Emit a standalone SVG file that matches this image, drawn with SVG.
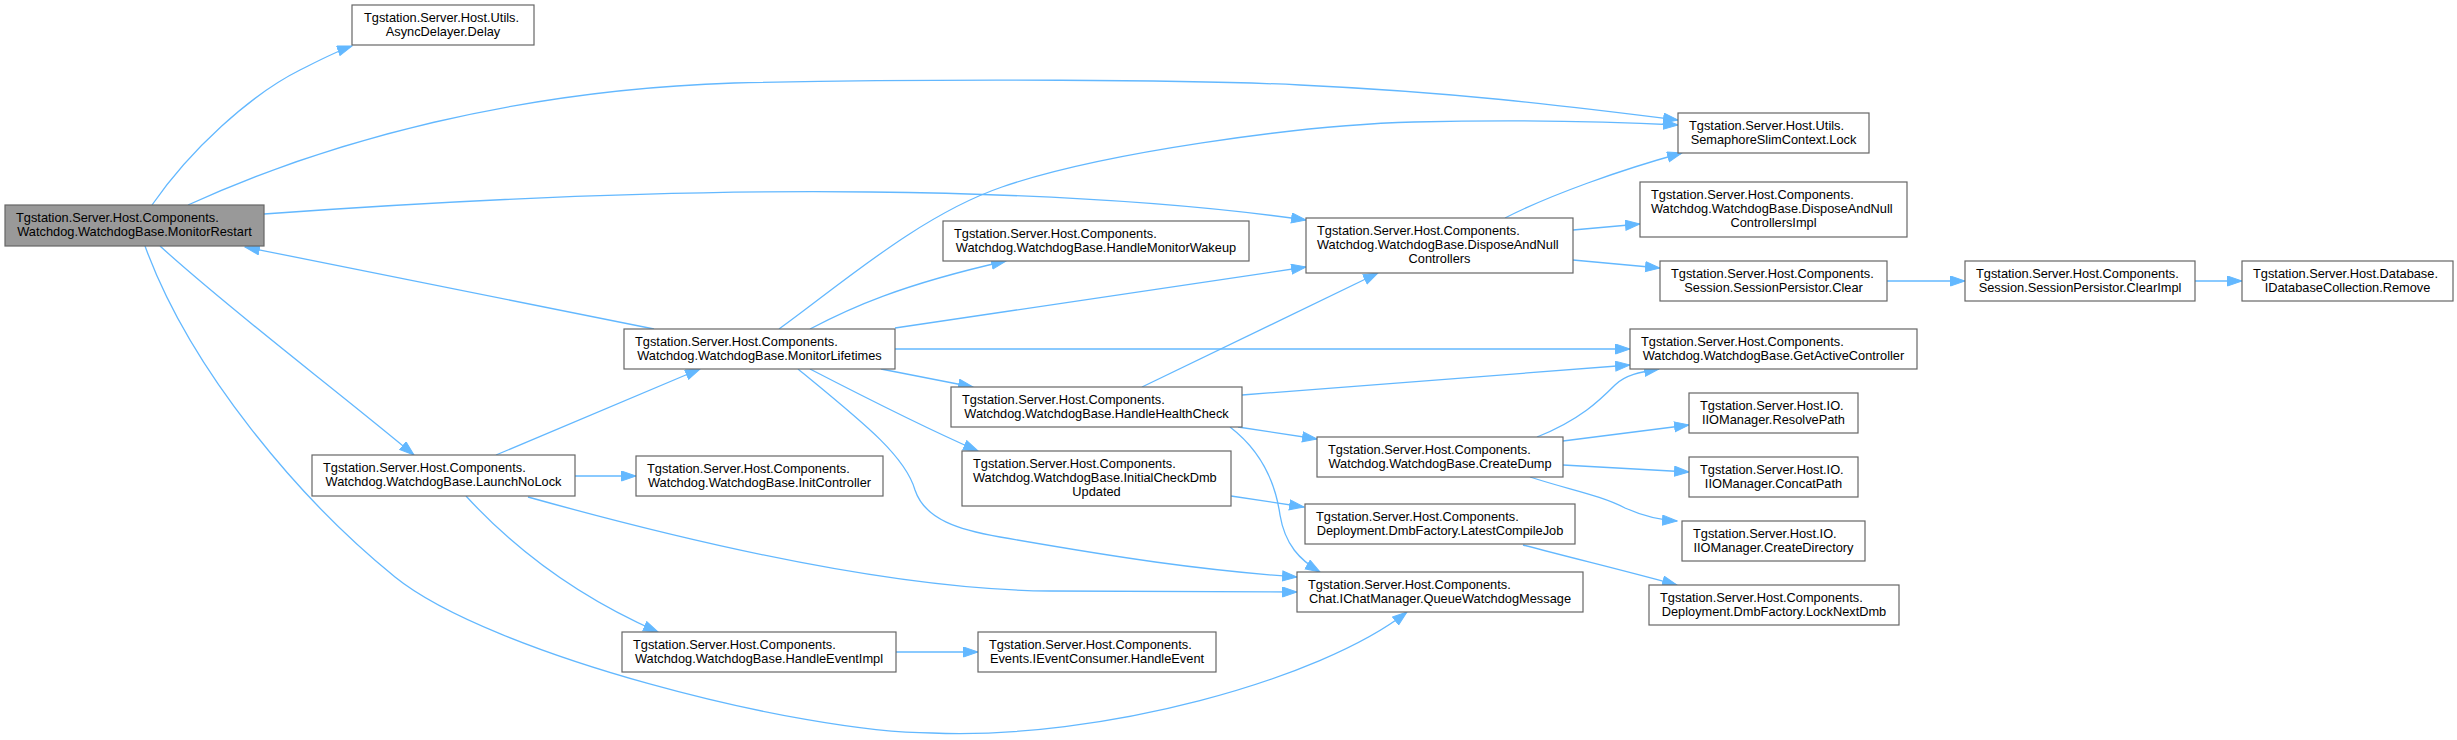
<svg xmlns="http://www.w3.org/2000/svg" width="2457" height="740" viewBox="0 0 2457 740">
<style>
.n rect{fill:#ffffff;stroke:#666666;stroke-width:1.2}
.n.main rect{fill:#999999}
.n text{font-family:"Liberation Sans",Arial,sans-serif;font-size:12.8px;fill:#000}
.m{text-anchor:middle}
.e path{fill:none;stroke:#63B8FF;stroke-width:1.3;marker-end:url(#ah)}
</style>
<defs>
<marker id="ah" markerUnits="userSpaceOnUse" markerWidth="16" markerHeight="12" refX="15" refY="5.5" orient="auto">
<path d="M0.5,0.5 L15,5.5 L0.5,10.5 z" fill="#63B8FF" stroke="#63B8FF" stroke-width="1"/>
</marker>
</defs>
<rect width="2457" height="740" fill="#ffffff"/>
<g id="edges" class="e">
<path d="M152,205 C190,150 250,95 300,70 C320,60 335,52 352,46"/>
<path d="M188,205 C330,140 520,90 734,83 C950,78 1200,80 1300,85 C1450,92 1560,105 1678,120"/>
<path d="M264,214 C500,197 700,190 870,192 C1050,194 1200,205 1306,220"/>
<path d="M160,246 C230,310 330,385 414,455"/>
<path d="M145,246 C190,370 300,500 395,577 C490,654 800,733 932,733 C1100,740 1320,680 1407,612"/>
<path d="M654,329 L245,247"/>
<path d="M496,455 L700,369"/>
<path d="M575,476 L636,476"/>
<path d="M466,496 C520,555 585,600 658,632"/>
<path d="M528,497 C700,545 900,590 1050,591 C1150,592 1230,592 1297,592"/>
<path d="M896,652 L978,652"/>
<path d="M779,329 C840,285 920,215 1002,187 C1100,153 1300,125 1414,122 C1500,120 1600,121 1678,125"/>
<path d="M810,329 C850,308 900,285 1006,261"/>
<path d="M895,328 L1306,267"/>
<path d="M895,349 L1630,349"/>
<path d="M881,369 L973,387"/>
<path d="M810,369 C870,400 930,430 978,451"/>
<path d="M798,369 C860,420 905,455 915,490 C925,520 960,530 1000,537 C1120,558 1200,570 1297,577"/>
<path d="M1142,387 L1378,273"/>
<path d="M1242,395 L1630,365"/>
<path d="M1238,427 L1317,439"/>
<path d="M1230,427 C1260,450 1275,480 1280,515 C1285,545 1300,560 1320,572"/>
<path d="M1231,496 L1304,507"/>
<path d="M1523,545 C1580,560 1630,572 1677,585"/>
<path d="M1537,437 C1580,420 1600,400 1615,385 C1625,375 1640,372 1659,369"/>
<path d="M1563,441 L1689,425"/>
<path d="M1563,465 L1689,472"/>
<path d="M1530,477 C1570,490 1600,495 1625,508 C1645,517 1660,520 1677,521"/>
<path d="M1505,218 C1550,195 1620,170 1682,153"/>
<path d="M1573,230 L1640,224"/>
<path d="M1573,260 L1660,268"/>
<path d="M1887,281 L1965,281"/>
<path d="M2195,281 L2242,281"/>
</g>
<g id="MonitorRestart" class="n main"><rect x="5" y="205" width="259" height="41"/><text x="16" y="221.5">Tgstation.Server.Host.Components.</text><text class="m" x="134.5" y="235.5">Watchdog.WatchdogBase.MonitorRestart</text></g>
<g id="Delay" class="n"><rect x="352" y="5" width="182" height="40"/><text x="364" y="21.5">Tgstation.Server.Host.Utils.</text><text class="m" x="443" y="35.5">AsyncDelayer.Delay</text></g>
<g id="Lock" class="n"><rect x="1678" y="113" width="191" height="40"/><text x="1689" y="129.5">Tgstation.Server.Host.Utils.</text><text class="m" x="1773.5" y="143.5">SemaphoreSlimContext.Lock</text></g>
<g id="LaunchNoLock" class="n"><rect x="312" y="455" width="263" height="41"/><text x="323" y="471.5">Tgstation.Server.Host.Components.</text><text class="m" x="443.5" y="485.5">Watchdog.WatchdogBase.LaunchNoLock</text></g>
<g id="MonitorLifetimes" class="n"><rect x="624" y="329" width="271" height="40"/><text x="635" y="345.5">Tgstation.Server.Host.Components.</text><text class="m" x="759.5" y="359.5">Watchdog.WatchdogBase.MonitorLifetimes</text></g>
<g id="HandleMonitorWakeup" class="n"><rect x="943" y="221" width="306" height="40"/><text x="954" y="237.5">Tgstation.Server.Host.Components.</text><text class="m" x="1096" y="251.5">Watchdog.WatchdogBase.HandleMonitorWakeup</text></g>
<g id="DisposeAndNullControllers" class="n"><rect x="1306" y="218" width="267" height="55"/><text x="1317" y="234.5">Tgstation.Server.Host.Components.</text><text x="1317" y="248.5">Watchdog.WatchdogBase.DisposeAndNull</text><text class="m" x="1439.5" y="263">Controllers</text></g>
<g id="DisposeAndNullControllersImpl" class="n"><rect x="1640" y="182" width="267" height="55"/><text x="1651" y="198.5">Tgstation.Server.Host.Components.</text><text x="1651" y="212.5">Watchdog.WatchdogBase.DisposeAndNull</text><text class="m" x="1773.5" y="227">ControllersImpl</text></g>
<g id="Clear" class="n"><rect x="1660" y="261" width="227" height="40"/><text x="1671" y="277.5">Tgstation.Server.Host.Components.</text><text class="m" x="1773.5" y="291.5">Session.SessionPersistor.Clear</text></g>
<g id="ClearImpl" class="n"><rect x="1965" y="261" width="230" height="40"/><text x="1976" y="277.5">Tgstation.Server.Host.Components.</text><text class="m" x="2080" y="291.5">Session.SessionPersistor.ClearImpl</text></g>
<g id="Remove" class="n"><rect x="2242" y="261" width="211" height="40"/><text x="2253" y="277.5">Tgstation.Server.Host.Database.</text><text class="m" x="2347.5" y="291.5">IDatabaseCollection.Remove</text></g>
<g id="GetActiveController" class="n"><rect x="1630" y="329" width="287" height="40"/><text x="1641" y="345.5">Tgstation.Server.Host.Components.</text><text class="m" x="1773.5" y="359.5">Watchdog.WatchdogBase.GetActiveController</text></g>
<g id="HandleHealthCheck" class="n"><rect x="951" y="387" width="291" height="40"/><text x="962" y="403.5">Tgstation.Server.Host.Components.</text><text class="m" x="1096.5" y="417.5">Watchdog.WatchdogBase.HandleHealthCheck</text></g>
<g id="InitController" class="n"><rect x="636" y="456" width="247" height="40"/><text x="647" y="472.5">Tgstation.Server.Host.Components.</text><text class="m" x="759.5" y="486.5">Watchdog.WatchdogBase.InitController</text></g>
<g id="InitialCheckDmbUpdated" class="n"><rect x="962" y="451" width="269" height="55"/><text x="973" y="467.5">Tgstation.Server.Host.Components.</text><text x="973" y="481.5">Watchdog.WatchdogBase.InitialCheckDmb</text><text class="m" x="1096.5" y="496">Updated</text></g>
<g id="CreateDump" class="n"><rect x="1317" y="437" width="246" height="40"/><text x="1328" y="453.5">Tgstation.Server.Host.Components.</text><text class="m" x="1440" y="467.5">Watchdog.WatchdogBase.CreateDump</text></g>
<g id="LatestCompileJob" class="n"><rect x="1305" y="504" width="270" height="40"/><text x="1316" y="520.5">Tgstation.Server.Host.Components.</text><text class="m" x="1440" y="534.5">Deployment.DmbFactory.LatestCompileJob</text></g>
<g id="QueueWatchdogMessage" class="n"><rect x="1297" y="572" width="286" height="40"/><text x="1308" y="588.5">Tgstation.Server.Host.Components.</text><text class="m" x="1440" y="602.5">Chat.IChatManager.QueueWatchdogMessage</text></g>
<g id="HandleEventImpl" class="n"><rect x="622" y="632" width="274" height="40"/><text x="633" y="648.5">Tgstation.Server.Host.Components.</text><text class="m" x="759" y="662.5">Watchdog.WatchdogBase.HandleEventImpl</text></g>
<g id="HandleEvent" class="n"><rect x="978" y="632" width="238" height="40"/><text x="989" y="648.5">Tgstation.Server.Host.Components.</text><text class="m" x="1097" y="662.5">Events.IEventConsumer.HandleEvent</text></g>
<g id="ResolvePath" class="n"><rect x="1689" y="393" width="169" height="40"/><text x="1700" y="409.5">Tgstation.Server.Host.IO.</text><text class="m" x="1773.5" y="423.5">IIOManager.ResolvePath</text></g>
<g id="ConcatPath" class="n"><rect x="1689" y="457" width="169" height="40"/><text x="1700" y="473.5">Tgstation.Server.Host.IO.</text><text class="m" x="1773.5" y="487.5">IIOManager.ConcatPath</text></g>
<g id="CreateDirectory" class="n"><rect x="1682" y="521" width="183" height="40"/><text x="1693" y="537.5">Tgstation.Server.Host.IO.</text><text class="m" x="1773.5" y="551.5">IIOManager.CreateDirectory</text></g>
<g id="LockNextDmb" class="n"><rect x="1649" y="585" width="250" height="40"/><text x="1660" y="601.5">Tgstation.Server.Host.Components.</text><text class="m" x="1774" y="615.5">Deployment.DmbFactory.LockNextDmb</text></g>
</svg>
